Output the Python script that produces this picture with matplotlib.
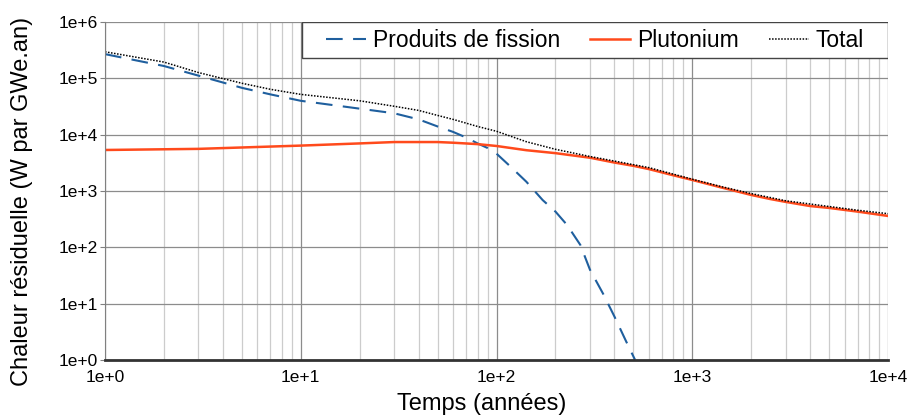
import matplotlib
matplotlib.use("Agg")
import matplotlib.pyplot as plt
import numpy as np
from matplotlib.patches import Rectangle
from matplotlib.ticker import FuncFormatter, LogLocator, NullFormatter

plt.rcParams['font.family'] = ['Liberation Sans', 'DejaVu Sans']

# Produits de fission
pf_t = [1, 2, 3, 5, 7, 10, 20, 30, 40, 50, 60, 70, 80, 90, 100, 118, 142, 172,
        200, 229, 268, 300, 350, 400, 460, 510]
pf_w = [2.7e5, 1.66e5, 1.12e5, 6.8e4, 5.2e4, 4.0e4, 2.9e4, 2.4e4, 1.87e4, 1.4e4,
        1.12e4, 8.9e3, 7.0e3, 5.8e3, 4.6e3, 2.7e3, 1.46e3, 690,
        430, 250, 110, 40, 15, 5.9, 2.1, 1.0]

# Plutonium
pu_t = [1, 3, 10, 20, 30, 50, 60, 80, 100, 142, 200, 300, 400, 500, 600, 800,
        1000, 1400, 2000, 2500, 3000, 4000, 5000, 7000, 10000]
pu_w = [5.35e3, 5.6e3, 6.4e3, 7.0e3, 7.4e3, 7.4e3, 7.2e3, 6.8e3, 6.3e3, 5.3e3,
        4.7e3, 3.9e3, 3.2e3, 2.8e3, 2.45e3, 1.9e3,
        1.57e3, 1.16e3, 850, 720, 640, 540, 500, 430, 360]

# Total
tot_t = [1, 2, 3, 5, 7, 10, 20, 30, 40, 50, 60, 80, 100, 142, 200, 300, 400,
         600, 1000, 1400, 2000, 3000, 5000, 7000, 10000]
tot_w = [2.97e5, 1.95e5, 1.27e5, 8.2e4, 6.4e4, 5.2e4, 4.0e4, 3.2e4, 2.7e4, 2.2e4,
         1.87e4, 1.4e4, 1.15e4, 7.5e3, 5.5e3, 4.1e3, 3.4e3,
         2.6e3, 1.62e3, 1.2e3, 900, 670, 530, 455, 395]

fig = plt.figure(figsize=(9.09, 4.17), dpi=100)
ax = fig.add_axes([0.1155, 0.137, 0.8615, 0.81])

ax.plot(pf_t, pf_w, color="#1f5f9e", lw=1.5, ls=(0, (8, 5)), label="Produits de fission")
ax.plot(pu_t, pu_w, color="#ff4a1c", lw=1.8, label="Plutonium")
ax.plot(tot_t, tot_w, color="black", lw=1.1, ls=(0, (1, 1)), label="Total")

ax.set_xscale("log")
ax.set_yscale("log")
ax.set_xlim(1, 1e4)
ax.set_ylim(1, 1e6)

fmt = FuncFormatter(lambda v, p: "1e+%d" % int(round(np.log10(v))))
ax.xaxis.set_major_formatter(fmt)
ax.yaxis.set_major_formatter(fmt)
ax.xaxis.set_minor_locator(LogLocator(base=10, subs=np.arange(2, 10)))
ax.xaxis.set_minor_formatter(NullFormatter())
ax.yaxis.set_minor_locator(plt.NullLocator())

ax.grid(True, which="major", color="#8c8c8c", lw=0.9)
ax.grid(True, which="minor", axis="x", color="#cccccc", lw=0.9)
ax.set_axisbelow(True)

ax.tick_params(axis="y", which="major", labelsize=12.5, length=3.6, pad=1.5, color="#808080")
ax.tick_params(axis="x", which="minor", length=0)
ax.tick_params(axis="x", which="major", labelsize=12.5, length=0, pad=7)

for s in ["top", "right"]:
    ax.spines[s].set_visible(False)
ax.spines["left"].set_color("#808080")
ax.spines["bottom"].set_color("#333333")
ax.spines["bottom"].set_linewidth(2)

ax.set_xlabel("Temps (années)", fontsize=17)
ax.set_ylabel("Chaleur résiduelle (W par GWe.an)", fontsize=17)
ax.xaxis.set_label_coords(0.4815, -0.097)
ax.yaxis.set_label_coords(-0.092, 0.469)

# cadre de la légende
bx0, by0 = 0.2516, 0.8935
ax.add_patch(Rectangle((bx0, by0), 1 - bx0, 1 - by0, transform=ax.transAxes,
                       facecolor="white", edgecolor="#444444", lw=1.0, zorder=5))
leg = ax.legend(loc="center", bbox_to_anchor=(bx0, by0, 1 - bx0, 1 - by0), ncol=3,
                fontsize=16.5, frameon=False, borderaxespad=0, borderpad=0,
                handlelength=1.75, handletextpad=0.3, columnspacing=1.3)
leg.set_zorder(6)

fig.savefig("out.png", dpi=100)
